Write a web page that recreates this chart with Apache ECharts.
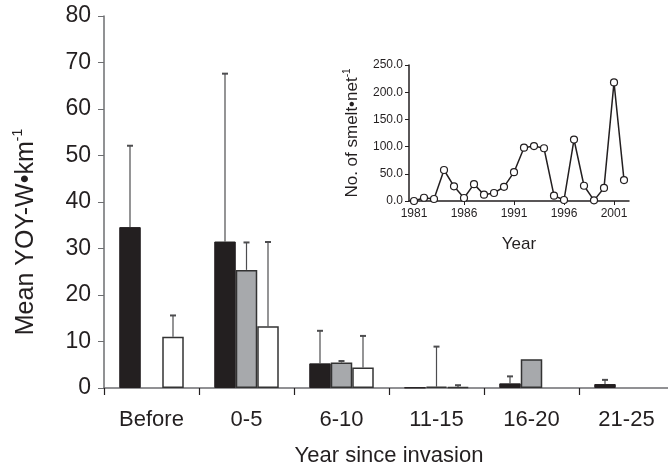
<!DOCTYPE html>
<html>
<head>
<meta charset="utf-8">
<script src="https://cdn.jsdelivr.net/npm/echarts@6/dist/echarts.min.js"></script>
<style>
  html, body { margin: 0; padding: 0; background: #fff; }
  #chart { width: 668px; height: 469px; }
</style>
</head>
<body>
<div id="chart"></div>
<script>
// main chart data
var groups = ['Before', '0-5', '6-10', '11-15', '16-20', '21-25'];
var blackMean = [34.6, 31.5, 5.3, 0.1, 1.0, 0.85];
var blackSd   = [17.5, 36.1, 7.0, 0, 1.5, 0.9];
var grayMean  = [null, 25.4, 5.5, 0.3, 6.2, null];
var graySd    = [0, 5.9, 0.3, 8.6, 0, 0];
var whiteMean = [11.0, 13.3, 4.4, 0.2, null, null];
var whiteSd   = [4.6, 18.1, 6.8, 0.4, 0, 0];

// inset data
var years = ['1981','1982','1983','1984','1985','1986','1987','1988','1989','1990','1991',
             '1992','1993','1994','1995','1996','1997','1998','1999','2000','2001','2002'];
var smelt = [0, 6, 3.7, 57, 27, 5.5, 31, 11.6, 14.7, 26, 53,
             98, 101, 97, 9.8, 1.8, 113, 28, 1.2, 24, 218, 38.5];

var font = 'Liberation Sans, Arial, sans-serif';
var axisCol = '#6d6e71';
var barW = 21.5;

function errSeries(means, sds, offset) {
  var data = [];
  means.forEach(function (m, i) {
    if (m != null && sds[i] > 0) data.push([i, m, m + sds[i]]);
  });
  return {
    type: 'custom',
    xAxisIndex: 0, yAxisIndex: 0,
    z: 1,
    data: data,
    renderItem: function (params, api) {
      var lo = api.coord([api.value(0), api.value(1)]);
      var hi = api.coord([api.value(0), api.value(2)]);
      var x = lo[0] + offset;
      return {
        type: 'group',
        children: [
          { type: 'line', shape: { x1: x, y1: lo[1], x2: x, y2: hi[1] },
            style: { stroke: '#4d4d4f', lineWidth: 1.2 } },
          { type: 'line', shape: { x1: x - 3, y1: hi[1], x2: x + 3, y2: hi[1] },
            style: { stroke: '#4d4d4f', lineWidth: 2 } }
        ]
      };
    }
  };
}

var myChart = echarts.init(document.getElementById('chart'));

var option = {
  animation: false,
  textStyle: { fontFamily: font },
  grid: [
    { left: 104, top: 16, width: 570, height: 372, outerBoundsMode: 'none' },
    { left: 409, top: 65, width: 220, height: 136, outerBoundsMode: 'none' }
  ],
  xAxis: [
    {
      type: 'category', gridIndex: 0, data: groups,
      name: 'Year since invasion', nameLocation: 'middle', nameGap: 57,
      nameTextStyle: { fontSize: 22, color: '#231f20' },
      axisLine: { lineStyle: { color: axisCol, width: 1.5 } },
      axisTick: { show: true, interval: 0, length: 7, lineStyle: { color: '#231f20', width: 1.2 } },
      axisLabel: { fontSize: 22, color: '#231f20', margin: 21 }
    },
    {
      type: 'category', gridIndex: 1, data: years,
      name: 'Year', nameLocation: 'middle', nameGap: 35,
      nameTextStyle: { fontSize: 17, color: '#231f20' },
      axisLine: { lineStyle: { color: '#231f20', width: 1.5 } },
      axisTick: { show: true, interval: 4, alignWithLabel: true, length: 4, lineStyle: { color: '#231f20' } },
      axisLabel: { interval: 4, fontSize: 12, color: '#231f20', margin: 7 }
    }
  ],
  yAxis: [
    {
      type: 'value', gridIndex: 0, min: 0, max: 80, interval: 10,
      name: '{a|Mean YOY-W•km}{b|-1}', nameLocation: 'middle', nameGap: 63,
      nameTextStyle: {
        color: '#231f20', padding: [0, 60, 0, 0],
        rich: { a: { fontSize: 25, color: '#231f20' },
                b: { fontSize: 14, color: '#231f20', padding: [0, 0, 16, 0] } }
      },
      splitLine: { show: false },
      axisLine: { show: true, lineStyle: { color: axisCol, width: 1.5 } },
      axisTick: { show: true, length: 6, lineStyle: { color: axisCol } },
      axisLabel: { fontSize: 23, color: '#231f20', margin: 13 }
    },
    {
      type: 'value', gridIndex: 1, min: 0, max: 250, interval: 50,
      name: '{a|No. of smelt•net}{b|-1}', nameLocation: 'middle', nameGap: 46,
      nameTextStyle: {
        color: '#231f20',
        rich: { a: { fontSize: 17, color: '#231f20' },
                b: { fontSize: 10, color: '#231f20', padding: [0, 0, 11, 0] } }
      },
      splitLine: { show: false },
      axisLine: { show: true, lineStyle: { color: '#231f20', width: 1.5 } },
      axisTick: { show: true, length: 4, lineStyle: { color: '#231f20' } },
      axisLabel: { fontSize: 12, color: '#231f20', margin: 6,
        formatter: function (v) { return v.toFixed(1); } }
    }
  ],
  series: [
    {
      name: 'black', type: 'bar', xAxisIndex: 0, yAxisIndex: 0,
      data: blackMean, barWidth: barW, barGap: '0%', z: 2,
      itemStyle: { color: '#231f20', borderColor: '#231f20', borderWidth: 1 }
    },
    {
      name: 'gray', type: 'bar', xAxisIndex: 0, yAxisIndex: 0,
      data: grayMean, barWidth: barW, barGap: '0%', z: 2,
      itemStyle: { color: '#a7a9ac', borderColor: '#333', borderWidth: 1.5 }
    },
    {
      name: 'white', type: 'bar', xAxisIndex: 0, yAxisIndex: 0,
      data: whiteMean, barWidth: barW, barGap: '0%', z: 2,
      itemStyle: { color: '#ffffff', borderColor: '#333', borderWidth: 1.5 }
    },
    errSeries(blackMean, blackSd, -barW),
    errSeries(grayMean, graySd, 0),
    errSeries(whiteMean, whiteSd, barW),
    {
      name: 'smelt', type: 'line', xAxisIndex: 1, yAxisIndex: 1,
      data: smelt, symbol: 'circle', symbolSize: 7, showAllSymbol: true,
      lineStyle: { color: '#231f20', width: 1.5 },
      itemStyle: { color: '#ffffff', borderColor: '#231f20', borderWidth: 1.2 }
    }
  ]
};

myChart.setOption(option, true);
</script>
</body>
</html>
